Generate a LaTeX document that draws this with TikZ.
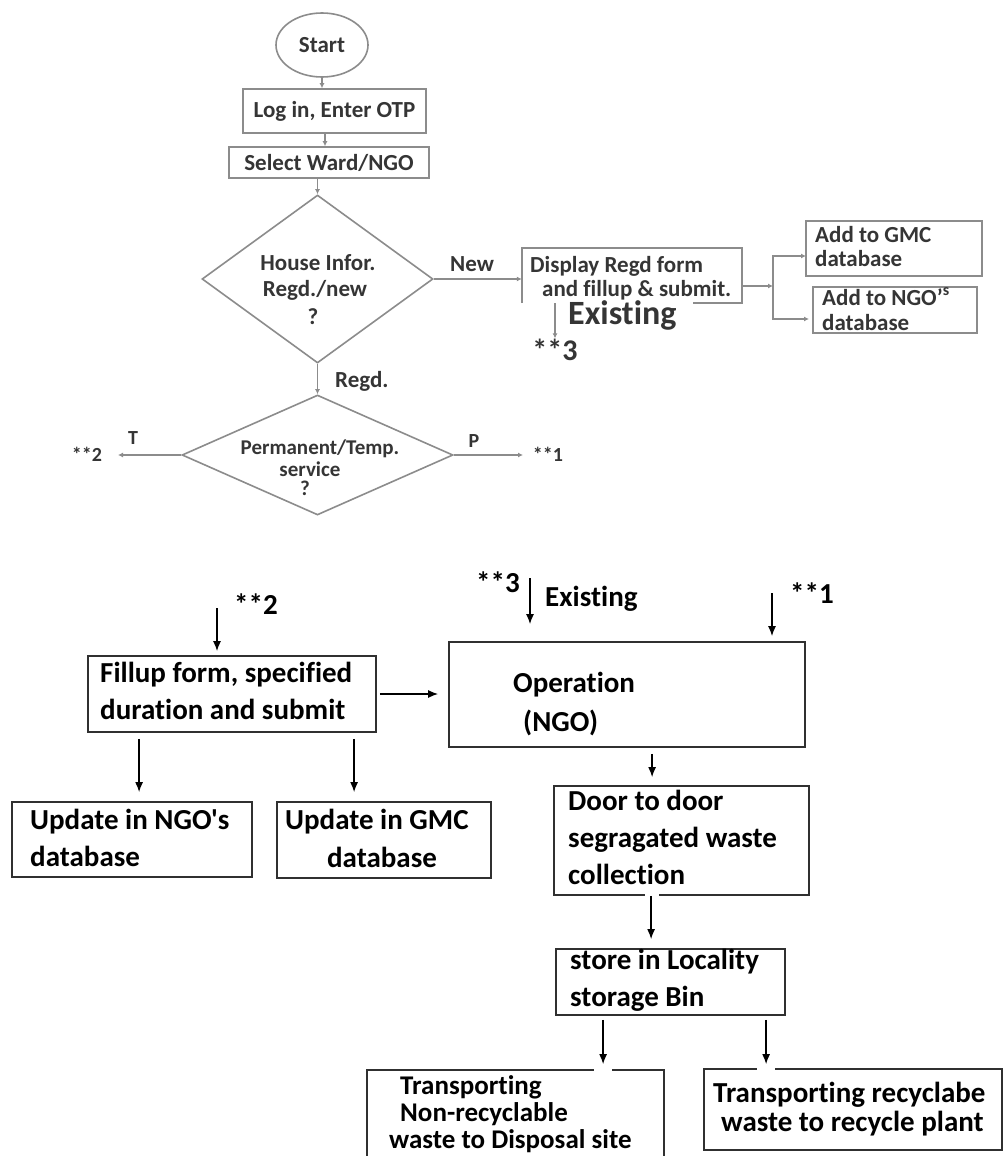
\documentclass[tikz,border=0pt]{standalone}
\usepackage{fontspec}
\newfontfamily\carl{Carlito}[Ligatures={NoCommon,NoContextual}]
\usetikzlibrary{shapes.geometric,arrows.meta,calc}
\definecolor{tl}{HTML}{8C8C8C}
\definecolor{tt}{HTML}{353535}
\definecolor{bk}{HTML}{303030}
\tikzset{
 tbox/.style={draw=tl, line width=1.6pt, rectangle, inner sep=0pt},
 tdia/.style={draw=tl, line width=1.6pt, diamond, inner sep=0pt},
 ttxt/.style={text=tt, font=\carl\bfseries\fontsize{23}{26}\selectfont, inner sep=0pt},
 dtxt/.style={text=tt, font=\carl\bfseries\fontsize{21}{24}\selectfont, inner sep=0pt},
 lbl/.style={text=tt, font=\carl\bfseries\fontsize{20}{24}\selectfont, inner sep=0pt},
 tarr/.style={draw=tl, line width=1.4pt, -{Latex[length=5pt,width=5pt]}},
 bbox/.style={draw=bk, line width=1.8pt, rectangle, inner sep=0pt},
 btxt/.style={text=black, font=\carl\bfseries\fontsize{29}{35}\selectfont, inner sep=0pt},
 stxt/.style={text=black, font=\carl\bfseries\fontsize{27}{30}\selectfont, inner sep=0pt},
 barr/.style={draw=black, line width=1.3pt, -{Latex[length=10pt,width=8pt]}},
}
\begin{document}
\begin{tikzpicture}[x=1pt,y=-1pt]
\useasboundingbox[fill=white] (0,0) rectangle (1003,1156);

% ---------- top part ----------
\node[draw=tl,line width=1.6pt,ellipse,minimum width=92pt,minimum height=64pt,ttxt] (start) at (322,45) {Start};
\node[tbox,minimum width=183pt,minimum height=44pt,ttxt] (login) at (334.5,111) {Log in, Enter OTP};
\node[tbox,minimum width=200pt,minimum height=31pt,ttxt] (select) at (329,162.5) {Select Ward/NGO};
\node[tdia,minimum width=231pt,minimum height=168pt] (d1) at (317.5,279) {};
\node[ttxt,anchor=base] (d1a) at (318,270) {House Infor.};
\node[ttxt,anchor=base] (d1b) at (315,296) {Regd./new};
\node[ttxt,anchor=base] (d1c) at (313,324) {?};

\draw[tarr] (start.south) -- (start.south |- login.north);
\draw[tarr] (login.south -| 325,0) -- (select.north -| 325,0);
\draw[tarr] (select.south -| d1.north) -- (d1.north);

\node[minimum width=220pt,minimum height=55pt,inner sep=0pt] (disp) at (632,275.5) {};
\draw[tl,line width=1.6pt] (disp.south west) -- (disp.north west) -- (disp.north east) -- (disp.south east) -- ++(-49,0);
\node[ttxt,anchor=base west] (dt1) at (530,272) {Display Regd form};
\node[ttxt,anchor=base west] (dt2) at (542,296) {and fillup \& submit.};
\node[ttxt,anchor=base] (new) at (472,271) {New};
\draw[tarr] (d1.east) -- (d1.east -| disp.west);
\node[text=tt,font=\carl\bfseries\fontsize{34}{40}\selectfont,inner sep=0pt,anchor=base west] (ex1) at (568,324) {Existing};
\node[text=tt,font=\carl\bfseries\fontsize{30}{36}\selectfont,inner sep=0pt,anchor=base] (t3) at (555,360) {**3};
\draw[tarr] (t3.north |- disp.south) -- (t3.north);

\coordinate (sp) at (773,286);
\coordinate (ga) at (806,256);
\coordinate (na) at (809,319);
\draw[tarr] (sp -| disp.east) -- (sp);
\draw[tarr] (sp) |- (ga);
\draw[tarr] (sp) |- (na);

\node[tbox,minimum width=176pt,minimum height=55pt] (gmc) at (894,248.5) {};
\node[ttxt,anchor=base west] (g1) at (815,242) {Add to GMC};
\node[ttxt,anchor=base west] (g2) at (815,266) {database};
\node[tbox,minimum width=164pt,minimum height=46pt] (ngo) at (895,310) {};
\node[ttxt,anchor=base west] (n1) at (822,305) {Add to NGO’\textsuperscript{s}};
\node[ttxt,anchor=base west] (n2) at (822,330) {database};

\node[tdia,minimum width=271pt,minimum height=120pt] (d2) at (317.5,455) {};
\draw[tarr] (d1.south) -- (d2.north);
\node[ttxt,anchor=base west] (regd) at (335,387) {Regd.};
\node[dtxt,anchor=base] (d2a) at (320,454) {Permanent/Temp.};
\node[dtxt,anchor=base] (d2b) at (310,476) {service};
\node[dtxt,anchor=base] (d2c) at (305,495) {?};
\coordinate (te) at (118,455);
\coordinate (pe) at (523,455);
\draw[tarr] (d2.west) -- (te);
\draw[tarr] (d2.east) -- (pe);
\node[lbl,anchor=base] (tl1) at (133,444) {T};
\node[lbl,anchor=base] (tl2) at (87,461) {**2};
\node[lbl,anchor=base] (pl1) at (474,447) {P};
\node[lbl,anchor=base] (pl2) at (548,461) {**1};

% ---------- bottom part ----------
\node[btxt,anchor=base] (b2) at (256,614) {**2};
\coordinate (a2) at (217,608);
\node[bbox,minimum width=288pt,minimum height=76pt] (fill) at (232,694) {};
\draw[barr,shorten >=4pt] (a2) -- (a2 |- fill.north);
\node[btxt,anchor=base west] (f1) at (100,682) {Fillup form, specified};
\node[btxt,anchor=base west] (f2) at (100,719) {duration and submit};

\node[bbox,minimum width=356pt,minimum height=105pt] (op) at (627,694.5) {};
\draw[barr,shorten <=3pt,shorten >=10pt] (fill.east) -- (fill.east -| op.west);
\node[btxt,anchor=base west] (o1) at (513,692) {Operation};
\node[btxt,anchor=base west] (o2) at (523,731) {(NGO)};

\node[btxt,anchor=base] (b3) at (498,592) {**3};
\coordinate (a3) at (530,578);
\draw[barr,shorten >=17pt] (a3) -- (a3 |- op.north);
\node[btxt,anchor=base west] (ex2) at (545,606) {Existing};
\node[btxt,anchor=base] (b1) at (812,603) {**1};
\coordinate (a1) at (772,593);
\draw[barr,shorten >=5pt] (a1) -- (a1 |- op.north);

\node[bbox,minimum width=240pt,minimum height=75pt] (unn) at (132,839.5) {};
\node[btxt,anchor=base west] (u1) at (30,829) {Update in NGO's};
\node[btxt,anchor=base west] (u2) at (30,866) {database};
\node[bbox,minimum width=214pt,minimum height=76pt] (ugm) at (384,840) {};
\node[btxt,anchor=base west] (u3) at (285,829) {Update in GMC};
\node[btxt,anchor=base] (u4) at (382,867) {database};
\draw[barr,shorten <=6pt,shorten >=9pt] ($(fill.south west)+(52,0)$) -- ($(unn.north west)+(128,0)$);
\draw[barr,shorten <=6pt,shorten >=9pt] ($(fill.south west)+(267,0)$) -- ($(ugm.north west)+(78,0)$);

\node[bbox,minimum width=255pt,minimum height=109pt] (door) at (681.5,840.5) {};
\draw[barr,shorten <=6pt,shorten >=8pt] ($(op.south west)+(204,0)$) -- ($(door.north west)+(99,0)$);
\node[btxt,anchor=base west] (dd1) at (568,810) {Door to door};
\node[btxt,anchor=base west] (dd2) at (568,847) {segragated waste};
\node[btxt,anchor=base west] (dd3) at (568,884) {collection};

\node[bbox,minimum width=229pt,minimum height=66pt] (store) at (670.5,982) {};
\draw[white,line width=3pt] ($(door.south west)+(92,0)$) -- ++(14,0);
\draw[barr,shorten >=9pt] ($(door.south west)+(98,0)$) -- ($(store.north west)+(96,0)$);
\node[btxt,anchor=base west] (s1) at (570,969) {store in Locality};
\node[btxt,anchor=base west] (s2) at (570,1006) {storage Bin};

\node[bbox,minimum width=297pt,minimum height=92pt] (dispo) at (515.5,1116) {};
\node[bbox,minimum width=298pt,minimum height=81pt] (recyc) at (853,1109.5) {};
\draw[white,line width=3pt] ($(dispo.north west)+(228,0)$) -- ++(18,0);
\draw[white,line width=3pt] ($(recyc.north west)+(54,0)$) -- ++(18,0);
\draw[barr,shorten <=4pt,shorten >=5pt] ($(store.south west)+(48,0)$) -- ($(dispo.north west)+(237,0)$);
\draw[barr,shorten <=4pt,shorten >=4pt] ($(store.south west)+(211,0)$) -- ($(recyc.north west)+(63,0)$);
\node[stxt,anchor=base west] (p1) at (400,1094) {Transporting};
\node[stxt,anchor=base west] (p2) at (400,1121) {Non-recyclable};
\node[stxt,anchor=base west] (p3) at (389,1148) {waste to Disposal site};
\node[btxt,anchor=base west] (r1) at (713,1102) {Transporting recyclabe};
\node[btxt,anchor=base west] (r2) at (721,1131) {waste to recycle plant};
\end{tikzpicture}
\end{document}
